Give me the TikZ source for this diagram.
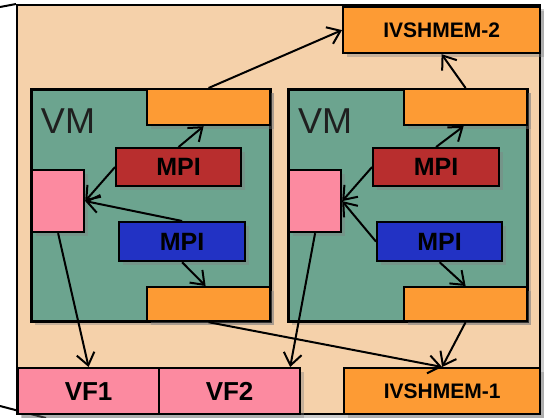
\documentclass[tikz,border=0pt]{standalone}
\usepackage{fontspec}
\setmainfont{Liberation Sans}
\usetikzlibrary{positioning,arrows.meta,shadows}
\definecolor{hostbg}{RGB}{245,209,170}
\definecolor{vmbg}{RGB}{108,164,143}
\definecolor{shmbg}{RGB}{253,155,52}
\definecolor{mpired}{RGB}{184,46,46}
\definecolor{mpiblue}{RGB}{34,50,196}
\definecolor{vfpink}{RGB}{252,138,160}

\begin{document}
\begin{tikzpicture}[x=1pt,y=-1pt,
  box/.style={draw,line width=2.2pt,anchor=north west,inner sep=0pt,
    drop shadow={shadow xshift=3.5pt,shadow yshift=-3.5pt,opacity=0.4}},
  mpilbl/.style={font=\fontsize{25}{25}\selectfont\bfseries},
  vflbl/.style={font=\fontsize{26}{26}\selectfont\bfseries},
  shmlbl/.style={font=\fontsize{21}{21}\selectfont\bfseries},
  vmlbl/.style={font=\fontsize{36}{36}\selectfont,text=black!88},
  link/.style={line width=2pt,-{Straight Barb[length=12pt,width=18pt,line width=2pt]}}]
\useasboundingbox (0,0) rectangle (547,418);
\node[box,fill=hostbg,minimum width=523pt,minimum height=409pt] (host) at (16,4) {};
\draw[line width=2pt] (0,7) -- (host.north west);
\draw[line width=2pt] (0,406) -- (46,418);
\node[box,fill=vmbg,line width=2.8pt,minimum width=239pt,minimum height=232pt] (vmA) at (30,88) {};
\node[box,fill=vmbg,line width=2.8pt,minimum width=239pt,minimum height=232pt] (vmB) at (287,88) {};
\node[vmlbl] (vmAl) at (68,121) {VM};
\node[vmlbl] (vmBl) at (325,121) {VM};
\node[box,fill=shmbg,minimum width=123pt,minimum height=36pt] (bufAt) at (146,88) {};
\node[box,fill=shmbg,minimum width=123pt,minimum height=34pt] (bufAb) at (146,286) {};
\node[box,fill=shmbg,minimum width=123pt,minimum height=36pt] (bufBt) at (403,88) {};
\node[box,fill=shmbg,minimum width=123pt,minimum height=34pt] (bufBb) at (403,286) {};
\node[box,fill=mpired,mpilbl,minimum width=125pt,minimum height=38pt] (mpiAr) at (115,147) {MPI};
\node[box,fill=mpired,mpilbl,minimum width=126pt,minimum height=38pt] (mpiBr) at (372,147) {MPI};
\node[box,fill=mpiblue,mpilbl,minimum width=126pt,minimum height=39pt] (mpiAb) at (118,221) {MPI};
\node[box,fill=mpiblue,mpilbl,minimum width=125pt,minimum height=39pt] (mpiBb) at (376,221) {MPI};
\node[box,fill=vfpink,minimum width=52pt,minimum height=62pt] (nicA) at (31,169) {};
\node[box,fill=vfpink,minimum width=52pt,minimum height=62pt] (nicB) at (288,169) {};
\node[box,fill=vfpink,vflbl,minimum width=141pt,minimum height=46pt] (vfA) at (17,367) {VF1};
\node[box,fill=vfpink,vflbl,minimum width=141pt,minimum height=46pt] (vfB) at (158,367) {VF2};
\node[box,fill=shmbg,shmlbl,minimum width=196pt,minimum height=46pt] (shmA) at (343,367) {IVSHMEM-1};
\node[box,fill=shmbg,shmlbl,minimum width=197pt,minimum height=46pt] (shmB) at (342,6) {IVSHMEM-2};
\draw[link] (mpiAr.north) -- ([xshift=-5pt]bufAt.south);
\draw[link] (mpiAr.west) -- (nicA.east);
\draw[link] (mpiAb.north) -- (nicA.east);
\draw[link] (mpiAb.south) -- ([xshift=-3pt]bufAb.north);
\draw[link] (nicA.south) -- (vfA.north);
\draw[link] (bufAt.north) -- (shmB.west);
\draw[link] (bufAb.south) -- (shmA.north);
\draw[link] (mpiBr.north) -- ([xshift=-2pt]bufBt.south);
\draw[link] (mpiBr.west) -- (nicB.east);
\draw[link] (mpiBb.west) -- (nicB.east);
\draw[link] (mpiBb.south) -- (bufBb.north);
\draw[link] (nicB.south) -- ([xshift=-11pt]vfB.north east);
\draw[link] (bufBt.north) -- (shmB.south);
\draw[link] (bufBb.south) -- (shmA.north);
\end{tikzpicture}
\end{document}
